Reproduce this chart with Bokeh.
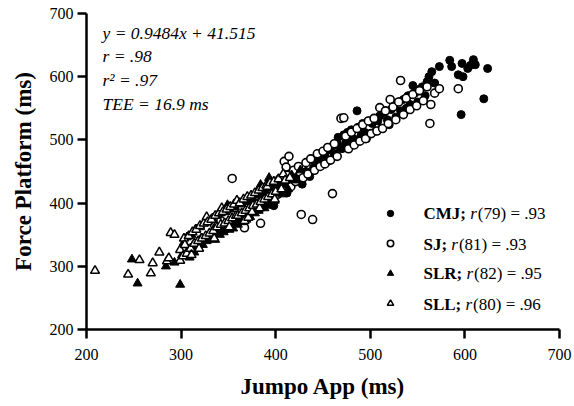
from bokeh.plotting import figure
from bokeh.models import (Range1d, FixedTicker, Label, Legend, LegendItem,
                          ColumnDataSource)
from bokeh.embed import file_html
from bokeh.resources import INLINE

# ---------------- data ----------------
TICKS = [200, 300, 400, 500, 600, 700]

cmj_x = [388, 395, 398, 402, 405, 410, 412, 418, 420, 425, 428, 432, 436, 440, 442,
         446, 448, 452, 455, 458, 460, 462, 465, 466, 468, 470, 472, 474, 476, 478,
         480, 482, 484, 486, 487, 490, 492, 494, 496, 498, 500, 502, 504, 506, 508,
         510, 512, 515, 518, 520, 522, 525, 527, 530, 532, 535, 538, 540, 542, 545,
         547, 550, 552, 555, 558, 560, 562, 565, 568, 573, 584, 586, 593, 596, 597,
         598, 603, 606, 609, 611, 620, 624]
cmj_y = [400, 408, 396, 414, 420, 428, 416, 434, 440, 438, 430, 450, 442, 456, 462,
         468, 478, 476, 466, 484, 490, 478, 494, 504, 488, 486, 508, 496, 512, 490,
         516, 502, 496, 546, 520, 506, 526, 512, 502, 530, 510, 526, 534, 514, 530,
         538, 518, 544, 532, 524, 548, 554, 536, 560, 546, 564, 550, 570, 556, 586,
         574, 560, 580, 584, 570, 592, 600, 608, 590, 616, 626, 616, 603, 540, 621,
         600, 613, 618, 627, 619, 565, 613]

sj_x = [328, 335, 342, 348, 354, 356, 362, 367, 370, 374, 378, 381, 384, 386, 390,
        393, 396, 399, 402, 404, 407, 409, 411, 412, 414, 416, 419, 421, 424, 427,
        429, 432, 434, 437, 439, 441, 444, 447, 450, 452, 455, 458, 460, 462, 465,
        469, 472, 474, 477, 480, 483, 486, 489, 492, 495, 498, 501, 504, 507, 510,
        513, 516, 519, 521, 524, 527, 530, 532, 535, 538, 542, 545, 549, 552, 556,
        560, 563, 564, 568, 573, 593]
sj_y = [344, 366, 372, 360, 439, 388, 376, 361, 400, 386, 410, 394, 368, 418, 402,
        426, 410, 430, 414, 438, 420, 466, 457, 444, 474, 426, 452, 434, 458, 382,
        440, 464, 446, 470, 374, 452, 478, 458, 482, 462, 488, 468, 415, 494, 474,
        534, 535, 506, 486, 512, 492, 518, 498, 524, 502, 530, 510, 534, 514, 551,
        518, 546, 526, 564, 552, 532, 560, 594, 540, 566, 548, 572, 554, 578, 562,
        584, 526, 556, 574, 581, 581]

slr_x = [248, 254, 284, 293, 299, 301, 303, 305, 306, 308, 309, 311, 312, 314, 315,
         317, 318, 320, 321, 323, 324, 326, 327, 329, 330, 332, 333, 335, 336, 338,
         339, 341, 342, 344, 345, 347, 348, 349, 351, 352, 354, 355, 357, 358, 360,
         361, 363, 364, 366, 367, 369, 370, 372, 373, 375, 376, 378, 379, 381, 382,
         384, 385, 387, 388, 390, 391, 393, 394, 396, 397, 399, 400, 403, 405, 407,
         410, 413, 417, 421, 426]
slr_y = [311, 273, 300, 306, 271, 318, 338, 320, 346, 326, 314, 350, 332, 322, 358,
         338, 330, 362, 344, 334, 368, 346, 340, 372, 348, 344, 376, 360, 342, 380,
         352, 350, 384, 360, 354, 386, 362, 397, 358, 390, 370, 360, 394, 372, 366,
         398, 374, 370, 402, 378, 374, 404, 380, 378, 408, 386, 384, 412, 390, 388,
         429, 414, 394, 392, 418, 398, 440, 396, 424, 402, 404, 426, 416, 432, 414,
         436, 422, 444, 436, 452]

sll_x = [209, 244, 256, 268, 270, 277, 285, 287, 289, 293, 299, 299, 302, 303, 304,
         306, 308, 310, 311, 312, 314, 316, 318, 319, 320, 322, 324, 326, 327, 328,
         330, 332, 334, 335, 336, 338, 340, 342, 343, 344, 346, 348, 350, 351, 352,
         354, 356, 358, 359, 360, 362, 364, 366, 367, 368, 370, 371, 372, 374, 375,
         376, 378, 380, 382, 383, 384, 386, 388, 390, 391, 392, 394, 396, 398, 399,
         400, 403, 406, 408, 410, 415]
sll_y = [293, 287, 310, 289, 305, 322, 308, 313, 353, 350, 309, 326, 316, 344, 334,
         320, 348, 328, 318, 354, 336, 358, 340, 328, 364, 344, 368, 348, 378, 370,
         352, 374, 356, 344, 380, 362, 384, 366, 392, 386, 368, 390, 372, 362, 394,
         376, 398, 380, 404, 380, 400, 384, 406, 372, 388, 410, 377, 392, 412, 386,
         396, 416, 398, 420, 392, 402, 424, 406, 428, 426, 410, 432, 414, 434, 406,
         418, 438, 422, 446, 436, 440]

stats_lines = ["y = 0.9484x + 41.515", "r =  .98", "r\u00b2 = .97", "TEE = 16.9 ms"]
groups = ["CMJ;", "SJ;", "SLR;", "SLL;"]
group_r = ["(79) = .93", "(81) = .93", "(82) = .95", "(80) = .96"]

# ---------------- figure ----------------
FONT = "Liberation Serif"

p = figure(width=572, height=404, output_backend="svg", toolbar_location=None,
           x_range=Range1d(200, 700), y_range=Range1d(200, 700),
           min_border_left=86, min_border_right=13, min_border_top=13,
           min_border_bottom=75)
p.outline_line_color = None
p.grid.visible = False
p.background_fill_color = "white"

for ax in (p.xaxis[0], p.yaxis[0]):
    ax.ticker = FixedTicker(ticks=TICKS)
    ax.axis_line_width = 2.5
    ax.axis_line_color = "black"
    ax.major_tick_line_width = 2.5
    ax.major_tick_line_color = "black"
    ax.major_tick_out = 9
    ax.major_tick_in = 0
    ax.minor_tick_line_color = None
    ax.major_label_text_font = FONT
    ax.major_label_text_font_size = "16px"
    ax.major_label_text_color = "black"
    ax.axis_label_text_font = FONT
    ax.axis_label_text_font_size = "23px"
    ax.axis_label_text_font_style = "bold"
    ax.axis_label_text_color = "black"

p.xaxis.axis_label = "Jumpo App (ms)"
p.yaxis.axis_label = "Force Platform (ms)"
p.xaxis.major_label_standoff = 10
p.yaxis.major_label_standoff = 4
p.xaxis.axis_label_standoff = 11
p.yaxis.axis_label_standoff = 11

r_cmj = p.scatter(x="x", y="y", source=ColumnDataSource(dict(x=cmj_x, y=cmj_y)),
                  marker="circle", size=8, fill_color="black", line_color="black",
                  line_width=1)
r_sj = p.scatter(x="x", y="y", source=ColumnDataSource(dict(x=sj_x, y=sj_y)),
                 marker="circle", size=8, fill_color="white", line_color="black",
                 line_width=1.6)
r_slr = p.scatter(x="x", y="y", source=ColumnDataSource(dict(x=slr_x, y=slr_y)),
                  marker="triangle", size=9, fill_color="black", line_color="black",
                  line_width=1)
r_sll = p.scatter(x="x", y="y", source=ColumnDataSource(dict(x=sll_x, y=sll_y)),
                  marker="triangle", size=9, fill_color="white", line_color="black",
                  line_width=1.5)

# legend markers
legend = Legend(items=[LegendItem(label=" ", renderers=[r]) for r in
                       (r_cmj, r_sj, r_slr, r_sll)],
                location=(296, 12), glyph_width=16, glyph_height=28, label_height=28,
                spacing=2, padding=0, margin=0, label_standoff=0,
                border_line_color=None, background_fill_alpha=0,
                label_text_font_size="10px")
p.add_layout(legend)

# stats text (top left)
for i, t in enumerate(stats_lines):
    p.add_layout(Label(x=216.9, y=669.9 - i * 37.5, text=t, text_font=FONT,
                       text_font_size="17.5px", text_font_style="italic",
                       text_color="black", text_baseline="middle",
                       text_align="left"))

# legend texts
FS = 17
bold_w = {"CMJ;": 2.499, "SJ;": 1.389, "SLR;": 2.278, "SLL;": 2.223}
row_y = [383.5, 334.5, 288.6, 239.6]
for g, rr, yy in zip(groups, group_r, row_y):
    off1 = (bold_w[g] + 0.25) * FS
    off2 = off1 + 0.389 * FS + 1
    p.add_layout(Label(x=556.2, y=yy, text=g, text_font=FONT, text_font_size="17px",
                       text_font_style="bold", text_color="black",
                       text_baseline="middle"))
    p.add_layout(Label(x=556.2, y=yy, x_offset=off1, text="r", text_font=FONT,
                       text_font_size="17px", text_font_style="italic",
                       text_color="black", text_baseline="middle"))
    p.add_layout(Label(x=556.2, y=yy, x_offset=off2, text=rr, text_font=FONT,
                       text_font_size="17px", text_color="black",
                       text_baseline="middle"))

open("out.html", "w").write(file_html(p, INLINE))
